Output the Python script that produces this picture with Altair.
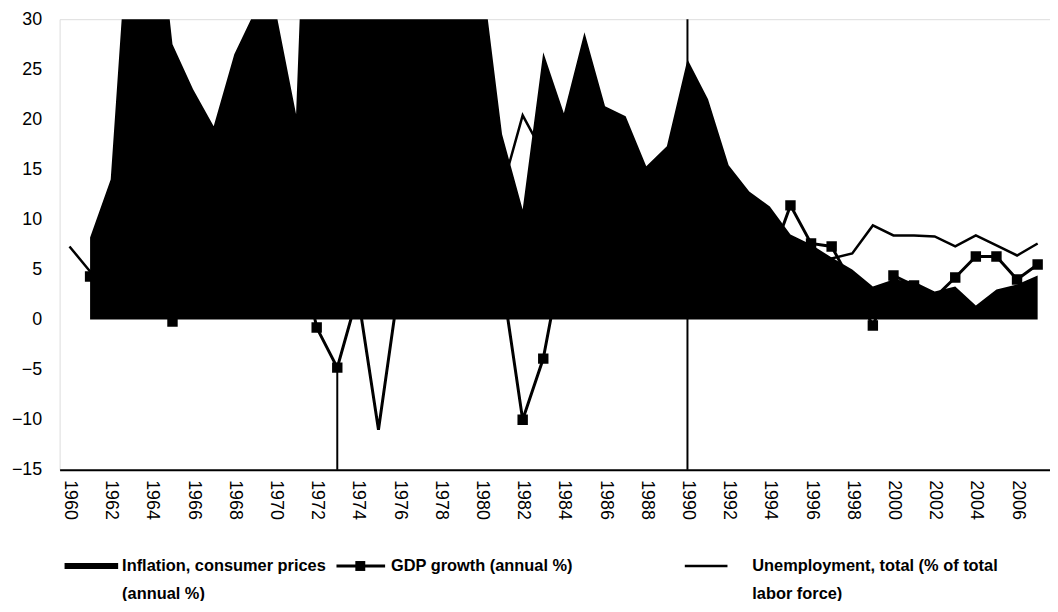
import altair as alt
import pandas as pd

# ---------------- data ----------------
years = list(range(1960, 2008))

inflation = [None, 8.2, 14.0, 44.0, 46.0, 27.5, 23.0, 19.3, 26.5, 30.8,
             31.0, 20.5, 75.0, 361.0, 505.0, 375.0, 212.0, 92.0, 40.0, 33.4,
             35.1, 18.5, 11.0, 26.7, 20.6, 28.7, 21.3, 20.3, 15.3, 17.3,
             26.0, 22.0, 15.4, 12.8, 11.3, 8.5, 7.5, 6.2, 5.0, 3.3,
             4.0, 3.8, 2.8, 3.3, 1.4, 3.0, 3.5, 4.4]

gdp_growth = [None, 4.3, 4.7, 6.3, 2.2, -0.2, 11.2, 3.2, 3.6, 3.7,
              2.1, 9.0, -0.8, -4.8, 2.5, -11.0, 3.5, 9.9, 8.2, 8.3,
              7.9, 4.0, -10.0, -3.9, 7.0, 7.1, 5.6, 6.6, 7.3, 10.6,
              3.7, 8.0, 12.3, 7.0, 5.7, 11.4, 7.6, 7.3, 3.5, -0.6,
              4.4, 3.4, 2.2, 4.2, 6.3, 6.3, 4.0, 5.5]

unemployment = [7.3, 4.8, 5.0, 5.1, 5.3, 5.4, 5.8, 6.1, 6.0, 6.2,
                5.7, 3.8, 3.3, 4.8, 9.2, 15.0, 16.8, 13.2, 14.0, 13.6,
                10.4, 13.0, 20.4, 16.6, 13.9, 12.0, 8.8, 7.9, 6.3, 5.3,
                5.7, 8.2, 6.7, 6.5, 7.8, 7.4, 6.4, 6.1, 6.6, 9.4,
                8.4, 8.4, 8.3, 7.3, 8.4, 7.4, 6.4, 7.6]

# years whose GDP marker is not drawn in the reference
gdp_unmarked_years = [1975]

rule_years = [1973, 1990]
rule_tops = [-4.8, 30.0]
rule_bases = [-15.0, -15.0]

x_tick_years = list(range(1960, 2007, 2))
y_ticks = [-15, -10, -5, 0, 5, 10, 15, 20, 25, 30]

legend_labels = ["Inflation, consumer prices", "(annual %)",
                 "GDP growth (annual %)",
                 "Unemployment, total (% of total", "labor force)"]

# ---------------- tables ----------------
df = pd.DataFrame({"year": years, "inflation": inflation,
                   "gdp": gdp_growth, "unemp": unemployment})
infl_df = df.dropna(subset=["inflation"])
gdp_df = df.dropna(subset=["gdp"])
gdp_mark_df = gdp_df[~gdp_df["year"].isin(gdp_unmarked_years)]
unemp_df = df.dropna(subset=["unemp"])
rules_df = pd.DataFrame({"year": rule_years, "top": rule_tops, "base": rule_bases})
one = pd.DataFrame({"k": [0]})

FONT = "Liberation Sans"
x_scale = alt.Scale(domain=[1959.52, 2007.6], nice=False, zero=False)
y_scale = alt.Scale(domain=[-15, 30], nice=False, zero=False)

x_axis = alt.Axis(values=x_tick_years, format="d", labelAngle=90,
                  labelAlign="left", labelBaseline="middle", labelPadding=10,
                  ticks=False, grid=False, domain=True, domainColor="black",
                  domainWidth=2, labelFontSize=18, labelOverlap=False,
                  labelFlush=False, title=None)
y_axis = alt.Axis(values=y_ticks, ticks=False, domain=False, grid=False,
                  labelPadding=18, labelFontSize=18, title=None)

X = alt.X("year:Q", scale=x_scale, axis=x_axis)

area = alt.Chart(infl_df).mark_area(color="black", clip=True).encode(
    x=X, y=alt.Y("inflation:Q", scale=y_scale, axis=y_axis))

unemp_line = alt.Chart(unemp_df).mark_line(color="black", strokeWidth=2.5, clip=True).encode(
    x=X, y=alt.Y("unemp:Q", scale=y_scale, axis=y_axis))

gdp_line = alt.Chart(gdp_df).mark_line(color="black", strokeWidth=3, clip=True).encode(
    x=X, y=alt.Y("gdp:Q", scale=y_scale, axis=y_axis))

gdp_points = alt.Chart(gdp_mark_df).mark_point(
    shape="square", size=110, filled=True, color="black", opacity=1, clip=True).encode(
    x=X, y=alt.Y("gdp:Q", scale=y_scale, axis=y_axis))

rules = alt.Chart(rules_df).mark_rule(color="black", strokeWidth=2).encode(
    x=X, y=alt.Y("top:Q", scale=y_scale, axis=y_axis), y2="base:Q")

# ---------------- manual legend ----------------
ROW1, ROW2 = 551, 579
leg = []
leg.append(alt.Chart(one).mark_rule(color="black", strokeWidth=6).encode(
    x=alt.value(5), x2=alt.value(59), y=alt.value(ROW1)))
leg.append(alt.Chart(one).mark_rule(color="black", strokeWidth=3).encode(
    x=alt.value(279), x2=alt.value(328), y=alt.value(ROW1)))
leg.append(alt.Chart(one).mark_point(shape="square", size=100, filled=True,
                                     color="black", opacity=1).encode(
    x=alt.value(303), y=alt.value(ROW1)))
leg.append(alt.Chart(one).mark_rule(color="black", strokeWidth=2.5).encode(
    x=alt.value(630), x2=alt.value(673), y=alt.value(ROW1)))
text_pos = [(63, ROW1), (63, ROW2), (334, ROW1), (698, ROW1), (698, ROW2)]
for lab, (tx, ty) in zip(legend_labels, text_pos):
    leg.append(alt.Chart(one).mark_text(
        text=lab, align="left", baseline="middle", font=FONT,
        fontWeight="bold", fontSize=16.5, color="black").encode(
        x=alt.value(tx), y=alt.value(ty)))

chart = alt.layer(area, unemp_line, gdp_line, gdp_points, rules, *leg).properties(
    width=998, height=454,
    padding={"left": 52, "top": 9, "right": 0, "bottom": 130},
    autosize=alt.AutoSizeParams(type="none"),
).configure_view(stroke=None).configure_axis(
    labelFont=FONT, labelFontWeight="bold", labelColor="black",
).configure(background="white")

chart.save("out.html", embed_options={"renderer": "svg", "actions": False})
